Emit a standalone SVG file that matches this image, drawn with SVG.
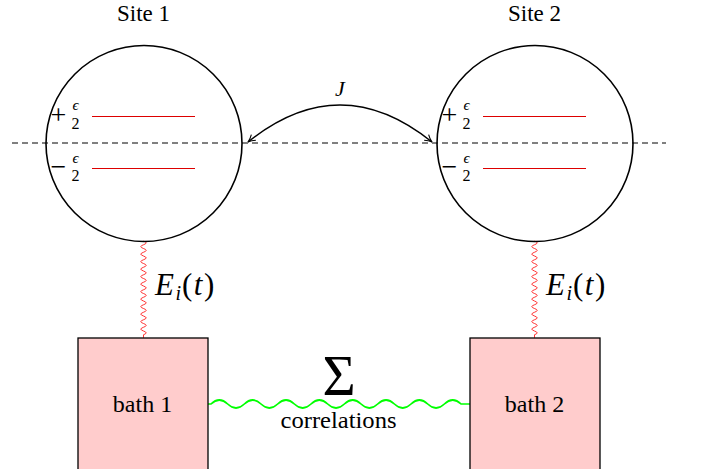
<svg xmlns="http://www.w3.org/2000/svg" width="704" height="469" viewBox="0 0 704 469" font-family="'Liberation Serif', 'DejaVu Serif', serif">
<style>
text{font-family:"Liberation Serif","DejaVu Serif",serif;fill:#000}
.site{fill:none;stroke:#000;stroke-width:1.6}
.lvl{stroke:#d00;stroke-width:1}
.bath{fill:#ffcccc;stroke:#000;stroke-width:1.3}
.it{font-style:italic}
.lbl{font-size:23px;text-anchor:middle}
.pm{font-size:28px;text-anchor:middle}
.eps{font-size:15px;font-style:italic;text-anchor:middle}
.two{font-size:16px;text-anchor:middle}
.wr{fill:none;stroke:#f00;stroke-width:0.8}
.E{font-size:31px;font-style:italic;letter-spacing:1.5px}
</style>
<defs>
<marker id="ah" viewBox="0 0 10 10" refX="9" refY="5" markerWidth="9" markerHeight="9" orient="auto-start-reverse" markerUnits="userSpaceOnUse">
<path d="M1,1 Q5,4 9,5 Q5,6 1,9" fill="none" stroke="#000" stroke-width="1.2"/>
</marker>
</defs>
<g id="connectors">
<line x1="12" y1="143" x2="666" y2="143" stroke="#000" stroke-width="1" stroke-dasharray="6,4"/>
<path d="M248,142 Q340,68 432,142" fill="none" stroke="#000" stroke-width="1.5" marker-start="url(#ah)" marker-end="url(#ah)"/>
<path class="wr" d="M143.5,241 q5.4,1.875 0,3.75 t0,3.75 t0,3.75 t0,3.75 t0,3.75 t0,3.75 t0,3.75 t0,3.75 t0,3.75 t0,3.75 t0,3.75 t0,3.75 t0,3.75 t0,3.75 t0,3.75 t0,3.75 t0,3.75 t0,3.75 t0,3.75 t0,3.75 t0,3.75 t0,3.75 t0,3.75 t0,3.75 t0,3.75 l0,3"/>
<path class="wr" d="M534.5,241 q5.4,1.875 0,3.75 t0,3.75 t0,3.75 t0,3.75 t0,3.75 t0,3.75 t0,3.75 t0,3.75 t0,3.75 t0,3.75 t0,3.75 t0,3.75 t0,3.75 t0,3.75 t0,3.75 t0,3.75 t0,3.75 t0,3.75 t0,3.75 t0,3.75 t0,3.75 t0,3.75 t0,3.75 t0,3.75 t0,3.75 l0,3"/>
<path d="M208,404 L211,404 q8.33,-8 16.67,0 t16.67,0 t16.67,0 t16.67,0 t16.67,0 t16.67,0 t16.67,0 t16.67,0 t16.67,0 t16.67,0 t16.67,0 t16.67,0 t16.67,0 t16.67,0 t16.67,0 L470,404" fill="none" stroke="#0f0" stroke-width="1.7"/>
<text x="340" y="96" font-size="22" text-anchor="middle" class="it">J</text>
<text x="155" y="295" class="E">E<tspan font-size="20" dy="5" letter-spacing="1px">i</tspan><tspan dy="-5" font-style="normal">(</tspan>t<tspan font-style="normal">)</tspan></text>
<text x="546" y="295" class="E">E<tspan font-size="20" dy="5" letter-spacing="1px">i</tspan><tspan dy="-5" font-style="normal">(</tspan>t<tspan font-style="normal">)</tspan></text>
<text x="339" y="395" font-size="57" text-anchor="middle">Σ</text>
<text x="338.5" y="428" font-size="24" text-anchor="middle" textLength="116" lengthAdjust="spacingAndGlyphs">correlations</text>
</g>
<g id="site1">
<text class="lbl" x="143.5" y="21">Site 1</text>
<circle class="site" cx="144" cy="143.5" r="98"/>
<line class="lvl" x1="92" y1="116.5" x2="195" y2="116.5"/>
<line class="lvl" x1="92" y1="168.5" x2="195" y2="168.5"/>
<text class="pm" x="58.5" y="123.5">+</text>
<text class="eps" x="75.5" y="110">ϵ</text>
<text class="two" x="75.5" y="128.5">2</text>
<text class="pm" x="58.5" y="175.5">−</text>
<text class="eps" x="75.5" y="163">ϵ</text>
<text class="two" x="75.5" y="180.5">2</text>
</g>
<g id="site2">
<text class="lbl" x="534.5" y="21">Site 2</text>
<circle class="site" cx="535" cy="143.5" r="98"/>
<line class="lvl" x1="483" y1="116.5" x2="586" y2="116.5"/>
<line class="lvl" x1="483" y1="168.5" x2="586" y2="168.5"/>
<text class="pm" x="449.5" y="123.5">+</text>
<text class="eps" x="466.5" y="110">ϵ</text>
<text class="two" x="466.5" y="128.5">2</text>
<text class="pm" x="449.5" y="175.5">−</text>
<text class="eps" x="466.5" y="163">ϵ</text>
<text class="two" x="466.5" y="180.5">2</text>
</g>
<g id="bath1">
<rect class="bath" x="78" y="338" width="130" height="140"/>
<text x="142.5" y="412" font-size="24" text-anchor="middle">bath 1</text>
</g>
<g id="bath2">
<rect class="bath" x="470" y="338" width="130" height="140"/>
<text x="534.5" y="412" font-size="24" text-anchor="middle">bath 2</text>
</g>
</svg>
